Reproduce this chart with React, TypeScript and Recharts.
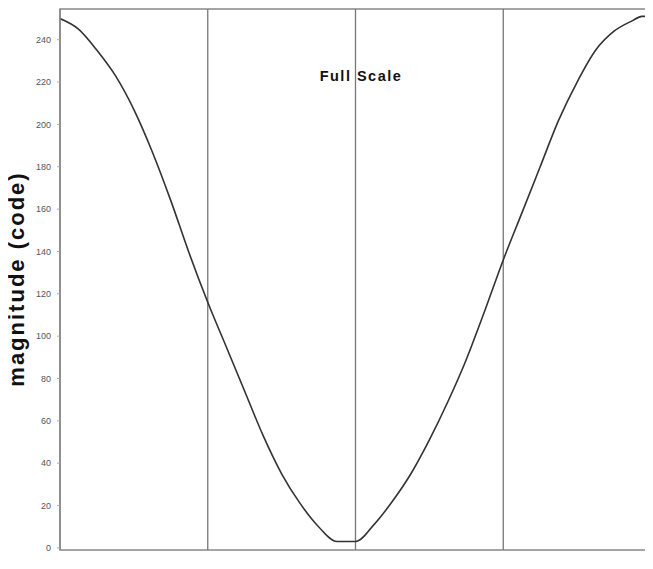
import { LineChart, Line, XAxis, YAxis, ReferenceLine, ReferenceArea } from "recharts";

// sample position (0..256) and measured magnitude code
const samples = [0, 8, 16, 24, 32, 40, 48, 56, 64, 72, 80, 88, 96, 104, 112, 120, 128, 136, 144, 152, 160, 168, 176, 184, 192, 200, 208, 216, 224, 232, 240, 248, 252, 256];
const magnitude = [250, 245, 235, 223, 207, 187, 164, 139, 116, 95, 74, 53, 35, 21, 10, 3, 3, 11, 22, 35, 51, 69, 89, 112, 136, 158, 180, 202, 220, 235, 244, 249, 251, 251];
const yTicks = [0, 20, 40, 60, 80, 100, 120, 140, 160, 180, 200, 220, 240];
const markers = [64, 128, 192];

const data = samples.map((x, i) => ({ x, v: magnitude[i] }));

const FONT = "'Liberation Sans', Arial, sans-serif";

export default function App() {
  return (
    <div style={{ position: "relative", width: 645, height: 561 }}>
      <LineChart width={645} height={561} data={data} margin={{ top: 1, right: 2, left: 12, bottom: 19 }}>
        <XAxis dataKey="x" type="number" domain={[0, 256]} hide allowDataOverflow />
        <YAxis
          type="number"
          domain={[-1, 254.5]}
          ticks={yTicks}
          width={40}
          allowDataOverflow
          interval={0}
          tick={{ fill: "#555", fontSize: 9, fontFamily: FONT }}
          tickSize={3}
          tickMargin={6}
          axisLine={{ stroke: "#888", strokeWidth: 1.5 }}
          tickLine={{ stroke: "#aaa" }}
        />
        <ReferenceArea x1={0} x2={256} y1={-1} y2={254.5} fill="none" stroke="#888" strokeWidth={1.5} ifOverflow="visible" />
        {markers.map((m) => (
          <ReferenceLine key={m} x={m} stroke="#777" strokeWidth={1.3} />
        ))}
        <Line type="monotone" dataKey="v" stroke="#333" strokeWidth={1.6} dot={false} isAnimationActive={false} />
      </LineChart>
      <div
        style={{
          position: "absolute", left: 306, top: 60, width: 94, textAlign: "center",
          fontFamily: FONT, fontWeight: "bold", fontSize: 14.5, letterSpacing: 1.5, color: "#111",
        }}
      >
        Full Scale
      </div>
      <div
        style={{
          position: "absolute", left: 9, top: 271, width: 0, height: 0,
        }}
      >
        <div
          style={{
            position: "absolute", transform: "translate(-50%, -50%) rotate(-90deg)", whiteSpace: "nowrap",
            fontFamily: FONT, fontWeight: "bold", fontSize: 22, letterSpacing: 2, color: "#111",
          }}
        >
          magnitude (code)
        </div>
      </div>
    </div>
  );
}
